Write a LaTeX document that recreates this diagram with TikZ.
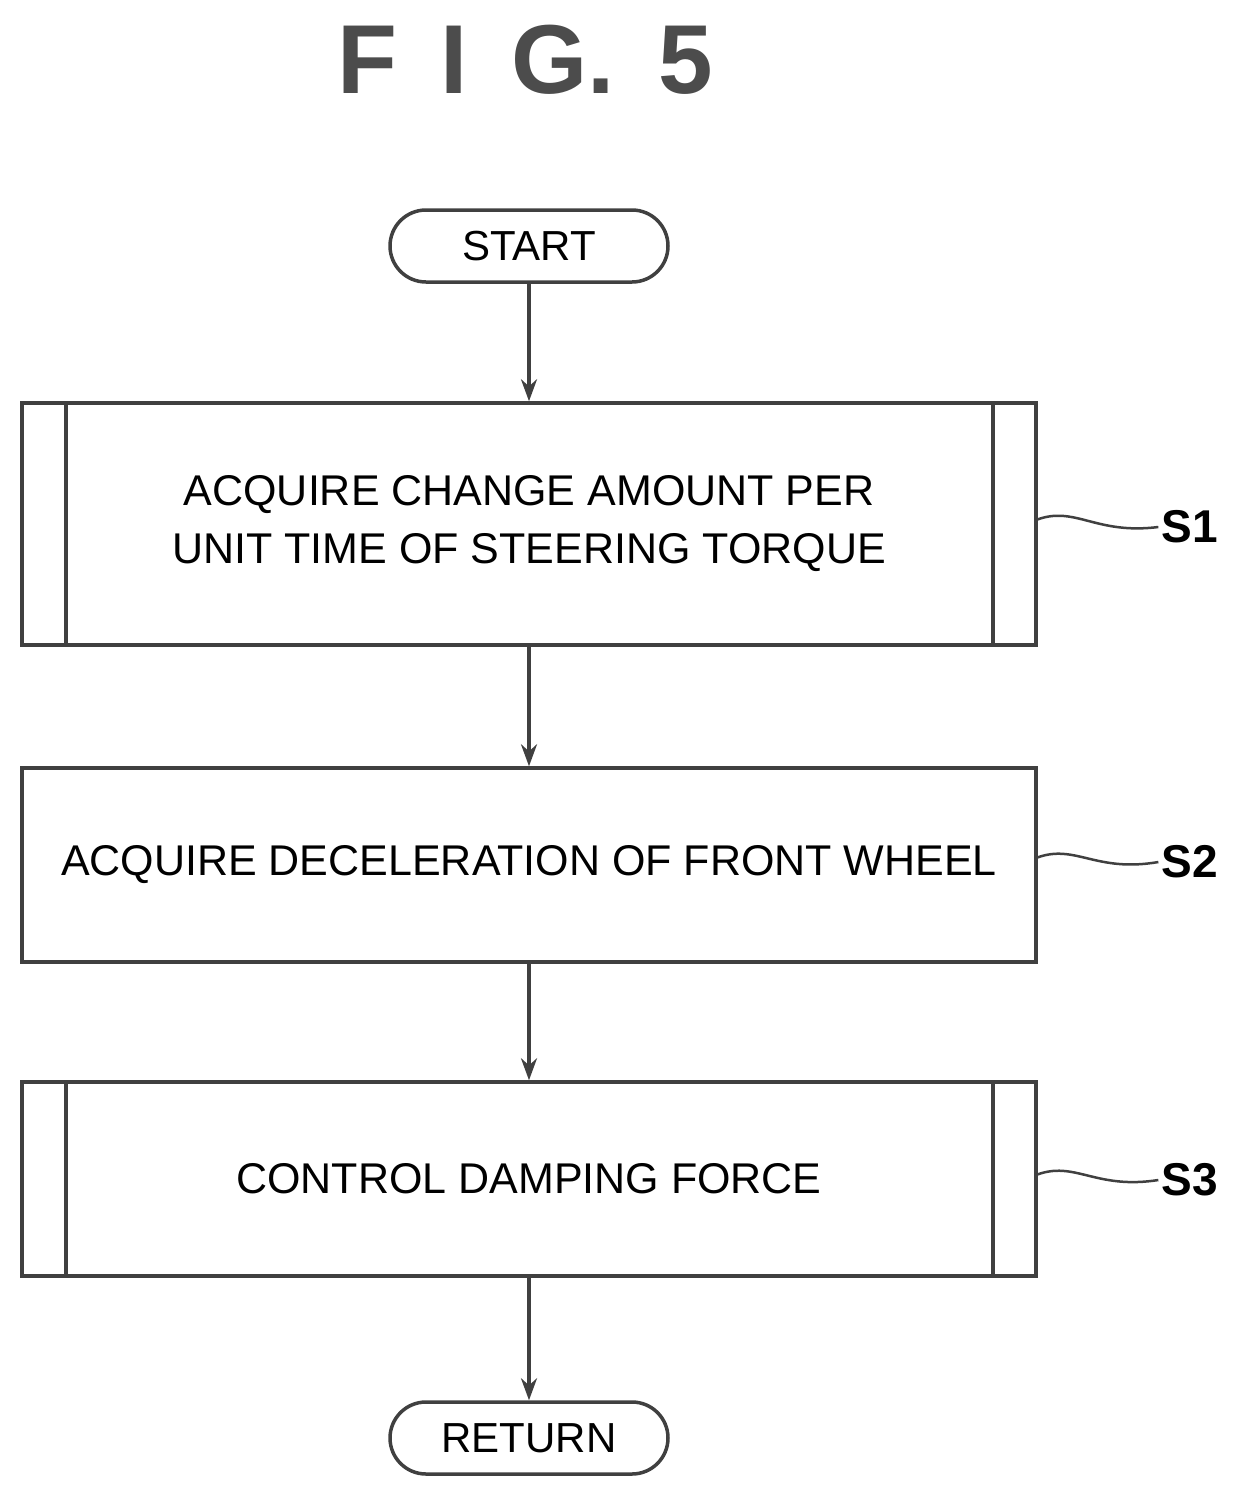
\documentclass[tikz,border=0pt]{standalone}
\usepackage{fontspec}
\setmainfont{Liberation Sans}
\usetikzlibrary{arrows.meta}
\begin{document}
\begin{tikzpicture}[x=1pt,y=-1pt,
  ln/.style={line width=3.5pt,draw=black!75},
  pill/.style={ln,rounded corners=36pt,minimum width=278pt,minimum height=72pt,font=\fontsize{42}{46}\selectfont},
  box/.style={ln,minimum width=1014pt,font=\fontsize{43}{58}\selectfont,align=center},
  arr/.style={ln,->,>={Stealth[length=22pt,width=16pt,open]}},
  lab/.style={font=\fontsize{46}{50}\selectfont\bfseries},
  wav/.style={line width=2.5pt,draw=black!75}]
\useasboundingbox (0,0) rectangle (1241,1504);
\node[font=\fontsize{98}{100}\selectfont\bfseries,text=black!70] (title) at (525,60) {F\, I\, G.\, 5};
\node[pill] (start) at (529,246) {START};
\node[box,minimum height=242pt] (s1) at (529,524) {ACQUIRE CHANGE AMOUNT PER\\UNIT TIME OF STEERING TORQUE};
\draw[ln] (66,403) -- (66,645) (993,403) -- (993,645);
\node[box,minimum height=194pt] (s2) at (529,865) {ACQUIRE DECELERATION OF FRONT WHEEL};
\node[box,minimum height=194pt] (s3) at (529,1179) {CONTROL DAMPING FORCE};
\draw[ln] (66,1082) -- (66,1276) (993,1082) -- (993,1276);
\node[pill] (ret) at (529,1438) {RETURN};
\draw[arr] (start) -- (s1);
\draw[arr] (s1) -- (s2);
\draw[arr] (s2) -- (s3);
\draw[arr] (s3) -- (ret);
\node[lab] (l1) at (1190,527) {S1};
\node[lab] (l2) at (1190,862) {S2};
\node[lab] (l3) at (1190,1180) {S3};
\foreach \l/\y in {l1/520,l2/858,l3/1175}{
  \draw[wav] (1036,\y) .. controls (1075,\y-15) and (1095,\y+15) .. (\l.west);
}
\end{tikzpicture}
\end{document}
